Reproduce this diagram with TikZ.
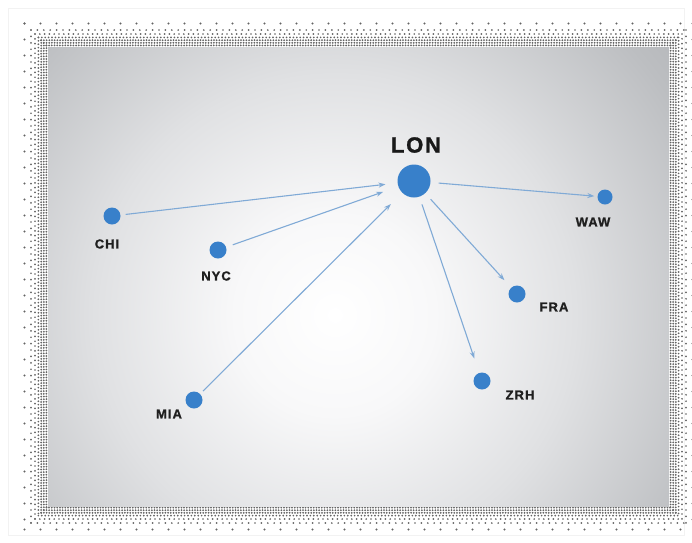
\documentclass[tikz,border=0pt]{standalone}
\usepackage{fontspec}
\setmainfont{Liberation Sans}
\newfontfamily\lblfont[LetterSpace=8,BoldFeatures={FakeBold=1.2}]{Liberation Sans}
\usetikzlibrary{arrows.meta}
\definecolor{nodeblue}{RGB}{56,128,202}
\definecolor{linkblue}{RGB}{128,170,214}
\definecolor{dotgray}{RGB}{100,100,100}
\definecolor{g1}{RGB}{248,248,249}
\definecolor{g2}{RGB}{224,225,227}
\definecolor{g3}{RGB}{188,190,193}
\definecolor{g4}{RGB}{167,169,173}
\definecolor{g5}{RGB}{154,156,160}
\definecolor{g6}{RGB}{148,150,154}
\pgfdeclareradialshading{bgshade}{\pgfpoint{0bp}{0bp}}{color(0bp)=(white); color(5bp)=(g1); color(12bp)=(g2); color(20bp)=(g3); color(27bp)=(g4); color(35bp)=(g5); color(50bp)=(g6)}
\begin{document}
\begin{tikzpicture}[x=1pt,y=-1pt,
  city/.style={circle, fill=nodeblue, minimum size=17pt, inner sep=0pt},
  hub/.style={circle, fill=nodeblue, minimum size=33pt, inner sep=0pt},
  lbl/.style={font=\lblfont\bfseries\fontsize{13}{13}\selectfont, text=black!88, inner sep=0pt},
  hublbl/.style={font=\lblfont\bfseries\fontsize{22}{22}\selectfont, text=black!90, inner sep=0pt},
  link/.style={draw=linkblue, line width=1.1pt, -{Stealth[length=7pt,width=5pt]}},
  dot/.style={fill=dotgray}]
\useasboundingbox (0,0) rectangle (692,542);
\fill[white] (0,0) rectangle (692,542);
\draw[black!5, line width=0.6pt] (8,8) rectangle (684,535);
% halftone fringe
\foreach \d/\s/\r in {1.6/2.7/1.0,4.2/2.7/1.0,6.8/2.7/1.0,9.6/3.4/0.95,13/4.8/0.95,17/6.4/0.95,23.5/16/1.05}{
  \pgfmathtruncatemacro\nx{(621+2*\d)/\s}
  \pgfmathtruncatemacro\ny{(459+2*\d)/\s}
  \foreach \i in {0,...,\nx}{
    \fill[dot] (48-\d+\i*\s, 47-\d) circle (\r pt);
    \fill[dot] (48-\d+\i*\s, 506+\d) circle (\r pt);
  }
  \foreach \i in {0,...,\ny}{
    \fill[dot] (48-\d, 47-\d+\i*\s) circle (\r pt);
    \fill[dot] (669+\d, 47-\d+\i*\s) circle (\r pt);
  }
}
% background panel
\begin{scope}
  \clip (48,47) rectangle (669,506);
  \shade[shading=bgshade] (335,315) circle (500pt);
\end{scope}
% nodes
\node[hub]  (LON) at (414,181) {};
\node[city] (CHI) at (112,216) {};
\node[city] (NYC) at (218,250) {};
\node[city] (MIA) at (194,400) {};
\node[city, minimum size=15pt] (WAW) at (605,197) {};
\node[city] (FRA) at (517,294) {};
\node[city] (ZRH) at (482,381) {};
% labels
\node[hublbl] (LONl) at (416,145) {LON};
\node[lbl] (CHIl) at (107,244) {CHI};
\node[lbl] (NYCl) at (216,276) {NYC};
\node[lbl] (MIAl) at (169,414) {MIA};
\node[lbl] (WAWl) at (593,222) {WAW};
\node[lbl] (FRAl) at (554,307) {FRA};
\node[lbl] (ZRHl) at (520,395) {ZRH};
% links
\draw[link, shorten <=5pt, shorten >=12pt] (CHI) -- (LON);
\draw[link, shorten <=7pt, shorten >=16pt] (NYC) -- (LON);
\draw[link, shorten <=4pt, shorten >=16pt] (MIA) -- (LON);
\draw[link, shorten <=8pt, shorten >=3pt] (LON) -- (WAW);
\draw[link, shorten <=8pt, shorten >=10pt] (LON) -- (FRA);
\draw[link, shorten <=8pt, shorten >=15pt] (LON) -- (ZRH);
\end{tikzpicture}
\end{document}
